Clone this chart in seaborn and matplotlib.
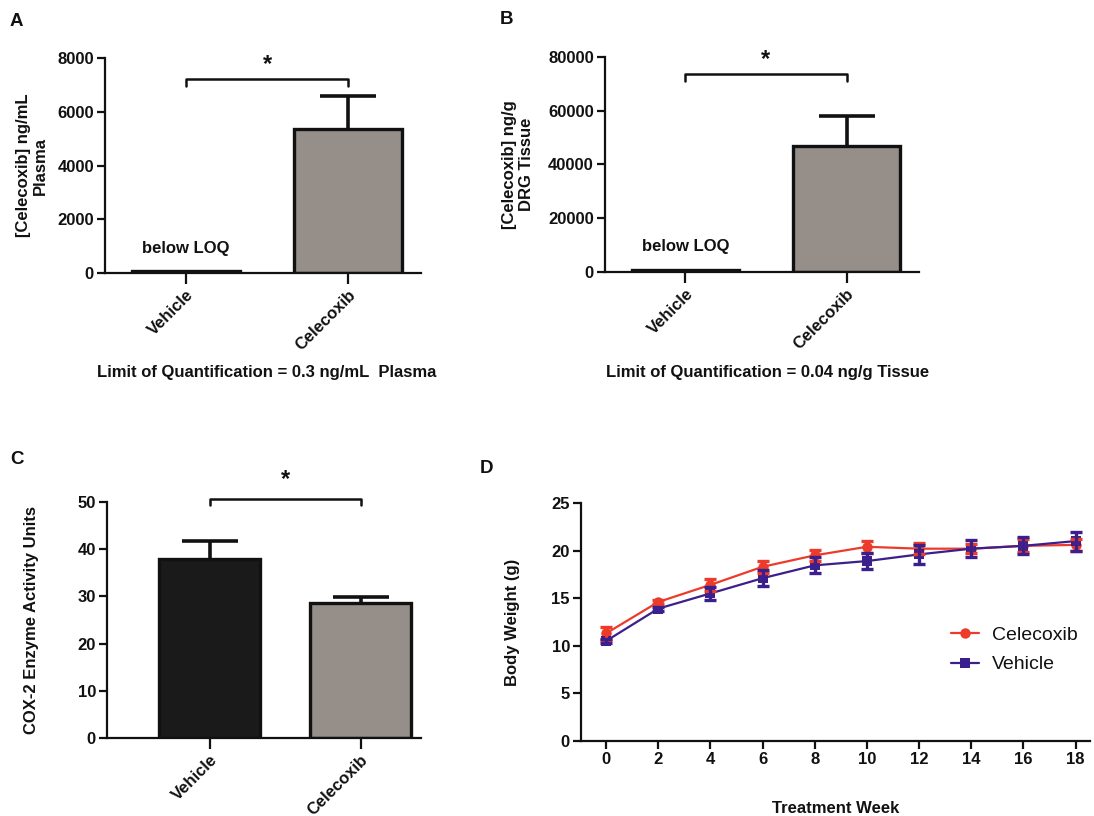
import matplotlib
matplotlib.use("Agg")
import matplotlib.pyplot as plt
import seaborn as sns
import pandas as pd
import numpy as np

sns.set_theme(style="ticks")
plt.rcParams['font.family'] = ['Liberation Sans', 'DejaVu Sans']
plt.rcParams['font.weight'] = 'bold'
plt.rcParams['text.color'] = '#111111'
plt.rcParams['axes.labelcolor'] = '#111111'
plt.rcParams['xtick.color'] = '#111111'
plt.rcParams['ytick.color'] = '#111111'

# ---------------- data ----------------
groups = ["Vehicle", "Celecoxib"]
plasma_mean = [80, 5350]
plasma_sem = [0, 1230]
drg_mean = [800, 46800]
drg_sem = [0, 11400]
cox_mean = [38.0, 28.6]
cox_sem = [3.8, 1.2]

weeks = [0, 2, 4, 6, 8, 10, 12, 14, 16, 18]
celecoxib_bw = [11.3, 14.6, 16.4, 18.3, 19.5, 20.4, 20.2, 20.2, 20.5, 20.6]
celecoxib_err = [0.7, 0.2, 0.65, 0.65, 0.6, 0.65, 0.6, 0.5, 0.7, 0.6]
vehicle_bw = [10.5, 13.9, 15.5, 17.1, 18.45, 18.9, 19.6, 20.2, 20.5, 21.0]
vehicle_err = [0.2, 0.2, 0.65, 0.85, 0.85, 0.85, 1.0, 0.9, 0.9, 1.0]

GRAY = "#958e89"
BLACK = "#1a1a1a"
RED = "#ec3b2a"
PURPLE = "#3b1f8c"
FS = 12

fig = plt.figure(figsize=(10.94, 8.16), dpi=100)

def style_axes(ax, size=FS):
    for s in ["top", "right"]:
        ax.spines[s].set_visible(False)
    for s in ["left", "bottom"]:
        ax.spines[s].set_linewidth(1.6)
        ax.spines[s].set_color("#111111")
    ax.tick_params(axis="both", width=1.6, length=6, colors="#111111",
                   labelsize=size, pad=2)
    for lab in ax.get_xticklabels() + ax.get_yticklabels():
        lab.set_fontweight("bold")

def place_ylabel(ax, x):
    ax.yaxis.set_label_coords(x, 0.5)
    ax.yaxis.label.set_verticalalignment("center")

def bar_panel(rect, means, sems, colors, ylim, yticks, ylabel, xlim, bracket,
              star_y, ylab_x):
    ax = fig.add_axes(rect)
    df = pd.DataFrame({"group": groups, "value": means})
    sns.barplot(data=df, x="group", y="value", hue="group", palette=colors,
                width=0.67, edgecolor="#111111", linewidth=2.4, legend=False,
                errorbar=None, ax=ax, saturation=1)
    for i, (m, e) in enumerate(zip(means, sems)):
        if e > 0:
            eb = ax.errorbar(i, m, yerr=[[0], [e]], fmt="none", ecolor="#111111",
                             elinewidth=2.6, capsize=20, capthick=2.6, zorder=1)
            eb[1][0].set_visible(False)
    ax.set_xlim(*xlim)
    ax.set_ylim(*ylim)
    ax.set_yticks(yticks)
    ax.set_yticklabels([str(t) for t in yticks])
    ax.set_xlabel("")
    ax.set_ylabel(ylabel, fontsize=FS, fontweight="bold")
    place_ylabel(ax, ylab_x)
    ax.spines["left"].set_bounds(ylim[0], ylim[1])
    style_axes(ax)
    ax.tick_params(axis="x", length=8)
    plt.setp(ax.get_xticklabels(), rotation=45, ha="right",
             rotation_mode="anchor", fontsize=FS, fontweight="bold")
    # significance bracket
    y_top, y_low = bracket
    ax.plot([0, 0, 1, 1], [y_low, y_top, y_top, y_low], color="#111111",
            lw=1.8, clip_on=False)
    ax.text(0.5, star_y, "*", ha="center", va="center", fontsize=17,
            fontweight="bold", clip_on=False)
    return ax

# Panel A
axA = bar_panel([0.096, 0.6654, 0.2888, 0.2635], plasma_mean, plasma_sem,
                [BLACK, GRAY], (0, 8000), [0, 2000, 4000, 6000, 8000],
                "[Celecoxib] ng/mL\nPlasma", (-0.5, 1.45), (7220, 6960), 7750, -0.231)
axA.text(0, 930, "below LOQ", ha="center", va="center", fontsize=FS,
         fontweight="bold")

# Panel B
axB = bar_panel([0.553, 0.6667, 0.287, 0.2635], drg_mean, drg_sem,
                [BLACK, GRAY], (0, 80000), [0, 20000, 40000, 60000, 80000],
                "[Celecoxib] ng/g\nDRG Tissue", (-0.5, 1.45), (73600, 71000), 79000, -0.277)
axB.text(0, 9500, "below LOQ", ha="center", va="center", fontsize=FS,
         fontweight="bold")

# Panel C
axC = bar_panel([0.0978, 0.0956, 0.287, 0.2892], cox_mean, cox_sem,
                [BLACK, GRAY], (0, 50), [0, 10, 20, 30, 40, 50],
                "COX-2 Enzyme Activity Units", (-0.68, 1.4), (50.6, 49.3), 54.8, -0.242)

fig.text(267 / 1094, 1 - 373 / 816, "Limit of Quantification = 0.3 ng/mL  Plasma",
         ha="center", va="center", fontsize=FS, fontweight="bold")
fig.text(768 / 1094, 1 - 373 / 816, "Limit of Quantification = 0.04 ng/g Tissue",
         ha="center", va="center", fontsize=FS, fontweight="bold")

# Panel D
axD = fig.add_axes([581 / 1094, 0.0919, 509 / 1094, 0.2917])
dfD = pd.DataFrame({
    "week": weeks * 2,
    "bw": celecoxib_bw + vehicle_bw,
    "group": ["Celecoxib"] * len(weeks) + ["Vehicle"] * len(weeks),
})
sns.lineplot(data=dfD, x="week", y="bw", hue="group", style="group",
             palette={"Celecoxib": RED, "Vehicle": PURPLE},
             markers={"Celecoxib": "o", "Vehicle": "s"}, dashes=False,
             markersize=7.5, linewidth=1.6, markeredgewidth=0, ax=axD)
axD.errorbar(weeks, celecoxib_bw, yerr=celecoxib_err, fmt="none", ecolor=RED,
             elinewidth=2.4, capsize=4.5, capthick=2.4)
axD.errorbar(weeks, vehicle_bw, yerr=vehicle_err, fmt="none", ecolor=PURPLE,
             elinewidth=2.4, capsize=4.5, capthick=2.4)
axD.set_xlim(-0.96, 18.55)
axD.set_ylim(0, 25)
axD.set_xticks(weeks)
axD.set_yticks([0, 5, 10, 15, 20, 25])
axD.set_xlabel("Treatment Week", fontsize=FS, fontweight="bold")
axD.xaxis.set_label_coords(0.5, -0.282)
axD.xaxis.label.set_verticalalignment("center")
axD.set_ylabel("Body Weight (g)", fontsize=FS, fontweight="bold")
place_ylabel(axD, -0.134)
style_axes(axD)
leg = axD.legend(loc="upper left", bbox_to_anchor=(0.726, 0.483), frameon=False,
                 fontsize=14, handlelength=1.45, handletextpad=0.7,
                 labelspacing=0.62, borderpad=0, borderaxespad=0)
for t in leg.get_texts():
    t.set_fontweight("normal")
    t.set_color("#111111")

# panel letters
for letter, (x, y) in {"A": (10, 21), "B": (500, 20), "C": (10, 460), "D": (480, 469)}.items():
    fig.text(x / 1094, 1 - y / 816, letter, ha="left", va="center",
             fontsize=13.5, fontweight="bold")

fig.savefig("out.png", dpi=100, facecolor="white")
